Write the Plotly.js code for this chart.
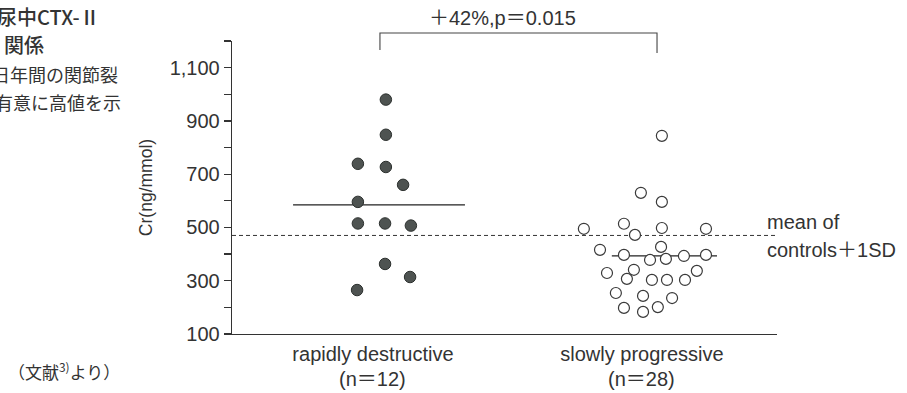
<!DOCTYPE html>
<html>
<head>
<meta charset="utf-8">
<script src="https://cdn.plot.ly/plotly-3.0.1.min.js"></script>
<style>
  html, body { margin: 0; padding: 0; background: #fff; }
  #chart { width: 907px; height: 393px; }
</style>
</head>
<body>
<div id="chart"></div>
<script>
// Urinary CTX-II (per creatinine) by progression group
const categories = ['rapidly destructive', 'slowly progressive'];

const rapidValues  = [980, 848, 739, 727, 660, 596, 515, 515, 507, 363, 314, 265];
const rapidOffsets = [0.048, 0.048, -0.056, 0.048, 0.112, -0.056, -0.056, 0.045, 0.141, 0.045, 0.138, -0.059];

const slowValues  = [844, 630, 596, 495, 514, 498, 495, 472, 416, 427, 397, 378, 382, 393,
                     397, 329, 341, 337, 307, 303, 303, 303, 254, 243, 235, 198, 183, 201];
const slowOffsets = [0.074, -0.004, 0.074, -0.216, -0.067, 0.074, 0.238, -0.026, -0.156, 0.071, -0.067, 0.030, 0.089, 0.156,
                     0.238, -0.130, -0.030, 0.204, -0.056, 0.037, 0.093, 0.160, -0.097, 0.004, 0.112, -0.067, 0.004, 0.059];

const groupMeans = [585, 393];
const controlMeanPlusSD = 470;
const comparisonLabel = '＋42%,p＝0.015';

const yTickVals = [100, 300, 500, 700, 900, 1100];

const latin = 'Liberation Sans, Arial, Noto Sans CJK JP, sans-serif';
const cjk = 'Noto Sans CJK JP, sans-serif';
const ink = '#333333';

// plot area in page pixels: x 232..777, y 41..334
const L = 232, R = 777, T = 41, B = 334;
const px = x => (x - L) / (R - L);
const py = y => (B - y) / (B - T);

const rapidTrace = {
  type: 'scatter', mode: 'markers',
  x: rapidValues.map((v, i) => 1 + rapidOffsets[i]),
  y: rapidValues,
  marker: { size: 11.5, color: '#4e5351', line: { color: '#2c302e', width: 1 } },
  hoverinfo: 'y', showlegend: false
};

const slowTrace = {
  type: 'scatter', mode: 'markers',
  x: slowValues.map((v, i) => 2 + slowOffsets[i]),
  y: slowValues,
  marker: { size: 11, color: '#ffffff', line: { color: '#3a3a3a', width: 1.2 } },
  hoverinfo: 'y', showlegend: false
};

const shapes = [
  // mean of controls + 1SD
  { type: 'line', xref: 'paper', yref: 'y', x0: 0, x1: 1, y0: controlMeanPlusSD, y1: controlMeanPlusSD,
    line: { color: ink, width: 1, dash: '4px,3px' }, layer: 'below' },
  // group means
  { type: 'line', xref: 'x', yref: 'y', x0: 0.703, x1: 1.342, y0: groupMeans[0], y1: groupMeans[0],
    line: { color: '#222', width: 1.2 }, layer: 'below' },
  { type: 'line', xref: 'x', yref: 'y', x0: 1.888, x1: 2.279, y0: groupMeans[1], y1: groupMeans[1],
    line: { color: '#222', width: 1.2 }, layer: 'below' },
  // comparison bracket
  { type: 'path', xref: 'x', yref: 'paper',
    path: `M 1.026 ${py(50)} L 1.026 ${py(33)} L 2.056 ${py(33)} L 2.056 ${py(53)}`,
    line: { color: '#444', width: 1.1 } }
];

const annotations = [
  { xref: 'x', yref: 'paper', x: 1.483, y: py(18), text: comparisonLabel, showarrow: false,
    xanchor: 'center', yanchor: 'middle', font: { family: latin, size: 20, color: ink } },
  { xref: 'x', yref: 'paper', x: 1, y: py(379), text: `(n＝${rapidValues.length})`, showarrow: false,
    xanchor: 'center', yanchor: 'middle', font: { family: latin, size: 20, color: ink } },
  { xref: 'x', yref: 'paper', x: 2, y: py(379), text: `(n＝${slowValues.length})`, showarrow: false,
    xanchor: 'center', yanchor: 'middle', font: { family: latin, size: 20, color: ink } },
  { xref: 'paper', yref: 'paper', x: px(765), y: py(222), text: 'mean of', showarrow: false,
    xanchor: 'left', yanchor: 'middle', font: { family: latin, size: 20, color: ink } },
  { xref: 'paper', yref: 'paper', x: px(765), y: py(250), text: 'controls＋1SD', showarrow: false,
    xanchor: 'left', yanchor: 'middle', font: { family: latin, size: 20, color: ink } },
  // caption text running in from the left page margin
  { xref: 'paper', yref: 'paper', x: px(-5), y: py(16), text: '尿中CTX-Ⅱ', showarrow: false,
    xanchor: 'left', yanchor: 'middle', font: { family: cjk, size: 20, color: ink, weight: 500 } },
  { xref: 'paper', yref: 'paper', x: px(2), y: py(45), text: '関係', showarrow: false,
    xanchor: 'left', yanchor: 'middle', font: { family: cjk, size: 20, color: ink, weight: 500 } },
  { xref: 'paper', yref: 'paper', x: px(-10), y: py(74), text: '日年間の関節裂', showarrow: false,
    xanchor: 'left', yanchor: 'middle', font: { family: cjk, size: 18, color: ink } },
  { xref: 'paper', yref: 'paper', x: px(-7), y: py(102), text: '有意に高値を示', showarrow: false,
    xanchor: 'left', yanchor: 'middle', font: { family: cjk, size: 18, color: ink } },
  { xref: 'paper', yref: 'paper', x: px(6), y: py(371), text: '（文献<sup>3)</sup>より）', showarrow: false,
    xanchor: 'left', yanchor: 'middle', font: { family: cjk, size: 17, color: ink } }
];

const layout = {
  width: 907, height: 393,
  margin: { l: L, r: 907 - R, t: T, b: 393 - B, pad: 0 },
  paper_bgcolor: '#ffffff', plot_bgcolor: '#ffffff',
  showlegend: false,
  xaxis: {
    range: [0.476, 2.502],
    tickvals: [1, 2], ticktext: categories,
    ticks: '', showgrid: false, zeroline: false,
    showline: true, linecolor: ink, linewidth: 1.3,
    tickfont: { family: latin, size: 20, color: ink },
    ticklabelstandoff: 2
  },
  yaxis: {
    range: [100, 1200],
    tickvals: yTickVals, tickformat: ',',
    ticks: 'outside', ticklen: 7, tickwidth: 1.2, tickcolor: ink,
    minor: { dtick: 100, tick0: 100, ticks: 'outside', ticklen: 7, tickwidth: 1.2, tickcolor: ink, showgrid: false },
    showgrid: false, zeroline: false,
    showline: true, linecolor: ink, linewidth: 1.3,
    tickfont: { family: latin, size: 20, color: ink },
    title: { text: 'Cr(ng/mmol)', font: { family: latin, size: 17.5, color: ink }, standoff: 12 }
  },
  shapes: shapes,
  annotations: annotations
};

Plotly.newPlot('chart', [rapidTrace, slowTrace], layout, { displayModeBar: false, staticPlot: true });
</script>
</body>
</html>
